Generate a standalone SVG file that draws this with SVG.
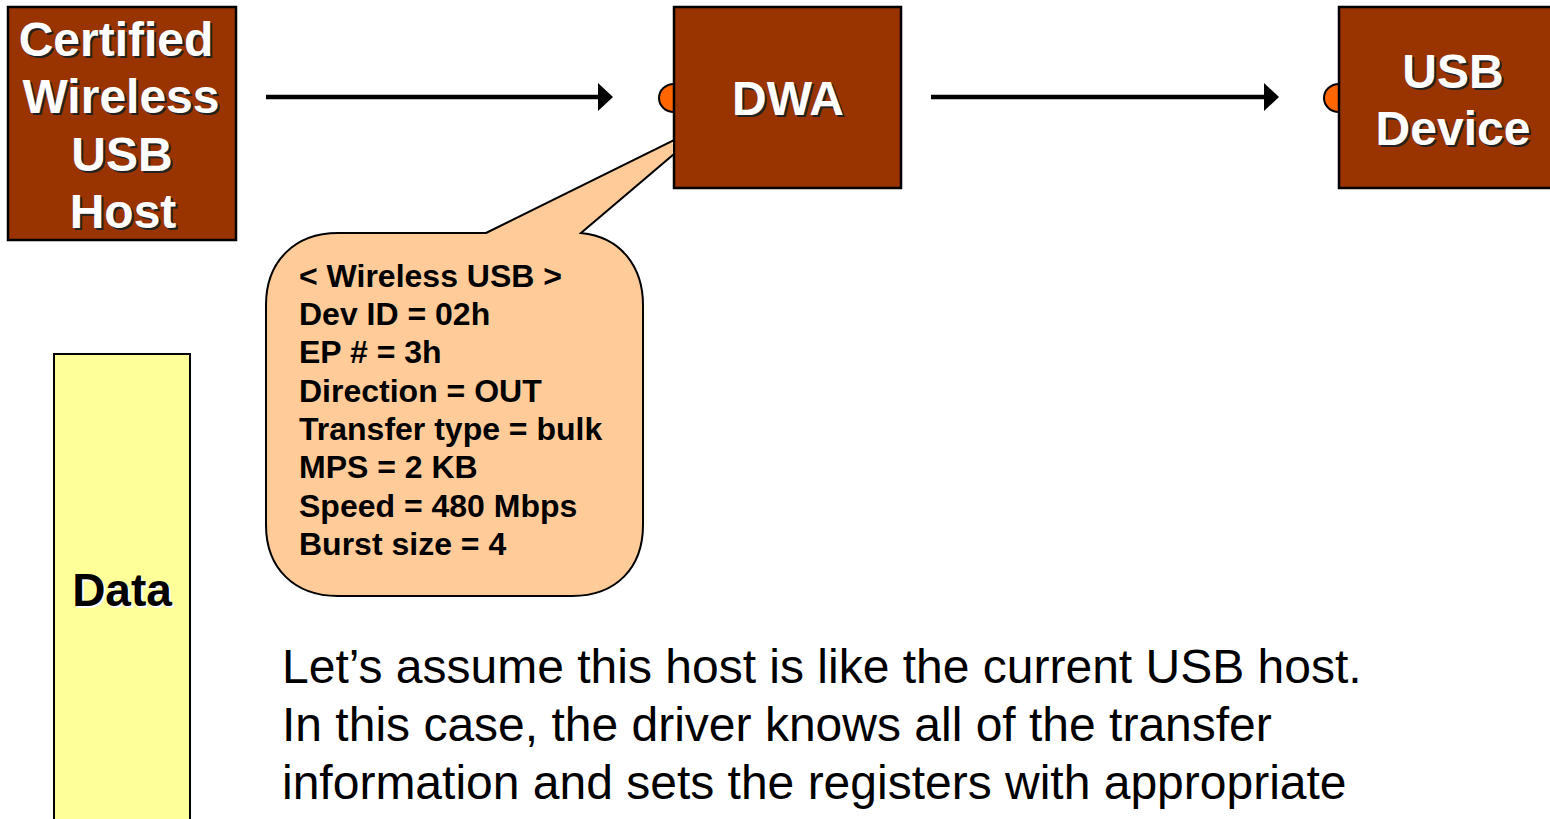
<svg xmlns="http://www.w3.org/2000/svg" width="1550" height="819" viewBox="0 0 1550 819">
<defs>
<style>
.box{fill:#993300;stroke:#000;stroke-width:2.5}
.wt{font-family:"Liberation Sans",Arial,sans-serif;font-weight:bold;font-size:48px;fill:#fff;text-anchor:middle}
.sh{font-family:"Liberation Sans",Arial,sans-serif;font-weight:bold;font-size:48px;fill:#222;text-anchor:middle}
.port{fill:#ff6600;stroke:#000;stroke-width:2}
.conn{stroke:#000;stroke-width:4.5;fill:none}
.ct{font-family:"Liberation Sans",Arial,sans-serif;font-weight:bold;font-size:32px;fill:#000}
.body{font-family:"Liberation Sans",Arial,sans-serif;font-size:48px;fill:#000}
</style>
</defs>
<rect width="1550" height="819" fill="#fff"/>
<g id="connectors">
<line x1="266" y1="97" x2="598" y2="97" class="conn"/>
<path d="M598,83 L613,97 L598,111 Z" fill="#000"/>
<line x1="931" y1="97" x2="1264" y2="97" class="conn"/>
<path d="M1264,83 L1279,97 L1264,111 Z" fill="#000"/>
</g>
<g id="host">
<rect x="8" y="7" width="228" height="233" class="box"/>
<text class="sh" x="118" y="58">Certified</text>
<text class="wt" x="116" y="56">Certified</text>
<text class="sh" x="123" y="115">Wireless</text>
<text class="wt" x="121" y="113">Wireless</text>
<text class="sh" x="124" y="173">USB</text>
<text class="wt" x="122" y="171">USB</text>
<text class="sh" x="125" y="230">Host</text>
<text class="wt" x="123" y="228">Host</text>
</g>
<g id="dwa">
<ellipse cx="674" cy="98" rx="15" ry="14" class="port"/>
<rect x="674" y="7" width="227" height="181" class="box"/>
<text class="sh" x="790" y="117">DWA</text>
<text class="wt" x="788" y="115">DWA</text>
</g>
<g id="usb-device">
<ellipse cx="1339" cy="98" rx="15" ry="14" class="port"/>
<rect x="1339" y="7" width="215" height="181" class="box"/>
<text class="sh" x="1455" y="90">USB</text>
<text class="wt" x="1453" y="88">USB</text>
<text class="sh" x="1455" y="147">Device</text>
<text class="wt" x="1453" y="145">Device</text>
</g>
<g id="callout">
<path d="M486,233 L674,140 L674,154 L581,233 C622,237 643,268 643,305 L643,525 C643,568 616,596 572,596 L338,596 C294,596 266,568 266,525 L266,305 C266,262 294,233 338,233 Z" fill="#ffcc99" stroke="#000" stroke-width="2"/>
<text class="ct" x="299" y="287">&lt; Wireless USB &gt;</text>
<text class="ct" x="299" y="325">Dev ID = 02h</text>
<text class="ct" x="299" y="363">EP # = 3h</text>
<text class="ct" x="299" y="402">Direction = OUT</text>
<text class="ct" x="299" y="440">Transfer type = bulk</text>
<text class="ct" x="299" y="478">MPS = 2 KB</text>
<text class="ct" x="299" y="517">Speed = 480 Mbps</text>
<text class="ct" x="299" y="555">Burst size = 4</text>
</g>
<g id="data">
<rect x="54" y="354" width="136" height="470" fill="#ffff99" stroke="#000" stroke-width="2"/>
<text x="124" y="608" font-family="Liberation Sans, Arial, sans-serif" font-weight="bold" font-size="46" fill="#fff" text-anchor="middle">Data</text>
<text x="122" y="606" font-family="Liberation Sans, Arial, sans-serif" font-weight="bold" font-size="46" fill="#000" text-anchor="middle">Data</text>
</g>
<g id="caption">
<text class="body" x="282" y="683">Let’s assume this host is like the current USB host.</text>
<text class="body" x="282" y="741">In this case, the driver knows all of the transfer</text>
<text class="body" x="282" y="799">information and sets the registers with appropriate</text>
</g>
</svg>
